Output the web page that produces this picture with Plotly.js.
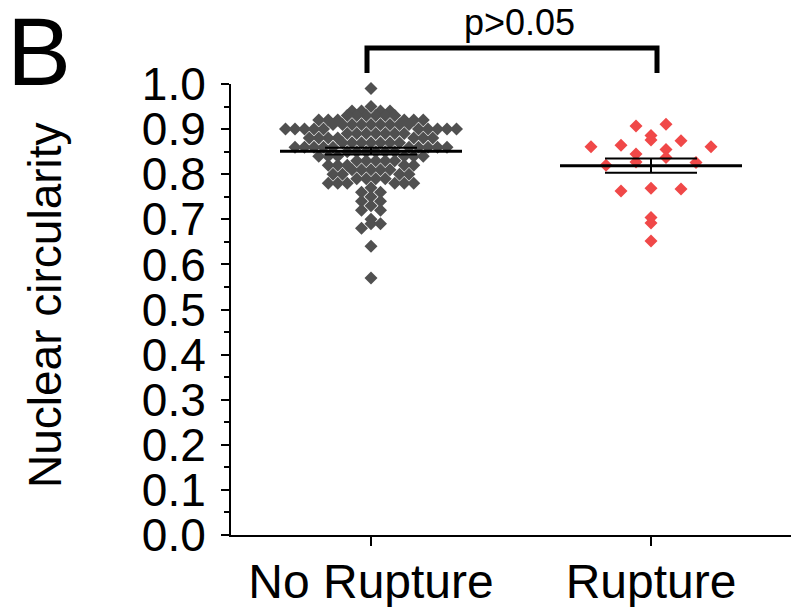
<!DOCTYPE html>
<html><head><meta charset="utf-8">
<script src="https://cdn.plot.ly/plotly-3.0.1.min.js"></script>
<style>html,body{margin:0;padding:0;background:#fff}#chart{width:792px;height:607px}</style>
</head><body><div id="chart"></div>
<script>
const categories = ['No Rupture', 'Rupture'];
const noRupture = [
  0.99,
  0.95,
  0.94, 0.94, 0.94, 0.94,
  0.93, 0.93, 0.93, 0.93, 0.93, 0.93,
  0.92, 0.92, 0.92, 0.92, 0.92, 0.92,
  0.91, 0.91, 0.91, 0.91, 0.91, 0.91, 0.91, 0.91, 0.91,
  0.90, 0.90, 0.90, 0.90, 0.90, 0.90, 0.90, 0.90, 0.90, 0.90,
  0.89, 0.89, 0.89, 0.89, 0.89, 0.89, 0.89,
  0.88, 0.88, 0.88, 0.88, 0.88, 0.88, 0.88,
  0.87, 0.87, 0.87, 0.87, 0.87, 0.87, 0.87,
  0.86, 0.86, 0.86, 0.86, 0.86, 0.86, 0.86, 0.86, 0.86, 0.86,
  0.85, 0.85, 0.85, 0.85, 0.85, 0.85,
  0.84, 0.84, 0.84, 0.84, 0.84, 0.84,
  0.83, 0.83, 0.83, 0.83, 0.83,
  0.82, 0.82, 0.82, 0.82, 0.82,
  0.81, 0.81, 0.81, 0.81, 0.81,
  0.80, 0.80, 0.80, 0.80,
  0.79, 0.79, 0.79, 0.79,
  0.78, 0.78, 0.78, 0.78, 0.78, 0.78,
  0.77,
  0.76, 0.76,
  0.75,
  0.74, 0.74,
  0.73,
  0.72, 0.72,
  0.70,
  0.69, 0.69,
  0.68,
  0.64,
  0.57
];
const rupture = [0.911, 0.907, 0.886, 0.876, 0.874, 0.864, 0.861, 0.861, 0.855, 0.845,
                 0.837, 0.827, 0.826, 0.820, 0.769, 0.767, 0.763, 0.704, 0.692, 0.652];
const groupMeans = [0.851, 0.819];
const groupSEM = [0.0075, 0.016];
const yTickVals = [0.0, 0.1, 0.2, 0.3, 0.4, 0.5, 0.6, 0.7, 0.8, 0.9, 1.0];
const yTickText = ['0.0', '0.1', '0.2', '0.3', '0.4', '0.5', '0.6', '0.7', '0.8', '0.9', '1.0'];
const yTitle = 'Nuclear circularity';
const significanceLabel = 'p>0.05';
const panelLabel = 'B';

const groupColors = ['#505050', '#F04848'];
const rowSpacingPx = [9.5, 30];
const binHeight = 0.02;
const W = 792, H = 607;
const M = {l: 231, r: 1, t: 84, b: 72};
const xRange = [-0.5, 1.5], yRange = [0, 1];
const plotW = W - M.l - M.r, plotH = H - M.t - M.b;
const pxPerX = plotW / (xRange[1] - xRange[0]);
const FONT = 'Liberation Sans, Arial, sans-serif';

// Prism-style scatter: values binned into rows, highest values placed at the row centre
function rowOffsets(values, spacingPx) {
  const bins = {};
  values.forEach((v, i) => {
    const b = Math.floor(v / binHeight + 1e-6);
    (bins[b] = bins[b] || []).push(i);
  });
  const off = new Array(values.length).fill(0);
  Object.values(bins).forEach(idx => {
    idx.sort((a, b) => values[b] - values[a]);
    const n = idx.length;
    const slots = [];
    for (let k = 0; k < n; k++) slots.push(k - (n - 1) / 2);
    slots.sort((a, b) => Math.abs(a) - Math.abs(b) || b - a);
    idx.forEach((i, k) => { off[i] = slots[k] * spacingPx / pxPerX; });
  });
  return off;
}

const groups = [noRupture, rupture];
const traces = [];
groups.forEach((vals, g) => {
  const off = rowOffsets(vals, rowSpacingPx[g]);
  traces.push({
    type: 'scatter', mode: 'markers',
    x: vals.map((v, i) => g + off[i]), y: vals,
    marker: {symbol: 'diamond', size: 10, color: groupColors[g], line: {width: 0}},
    cliponaxis: false, hoverinfo: 'y', showlegend: false
  });
});
groups.forEach((vals, g) => {
  traces.push({
    type: 'scatter', mode: 'lines',
    x: [g - 0.325, g + 0.325], y: [groupMeans[g], groupMeans[g]],
    line: {color: '#000', width: 3}, showlegend: false, hoverinfo: 'skip'
  });
  traces.push({
    type: 'scatter', mode: 'markers',
    x: [g], y: [groupMeans[g]],
    marker: {size: 1, opacity: 0},
    error_y: {type: 'data', array: [groupSEM[g]], width: 46, thickness: 2, color: '#000'},
    showlegend: false, hoverinfo: 'skip'
  });
});

const px2paperX = px => (px - M.l) / plotW;
const px2paperY = py => (H - M.b - py) / plotH;
const bx0 = px2paperX(367), bx1 = px2paperX(657), byTop = px2paperY(48), byLeg = px2paperY(73);

const layout = {
  width: W, height: H,
  margin: M,
  paper_bgcolor: '#fff', plot_bgcolor: '#fff',
  font: {family: FONT, color: '#000'},
  showlegend: false,
  xaxis: {
    range: xRange, tickmode: 'array', tickvals: [0, 1], ticktext: categories,
    showline: true, linecolor: '#000', linewidth: 2,
    ticks: 'outside', ticklen: 9, tickwidth: 2, tickcolor: '#000',
    tickfont: {size: 48, family: FONT, color: '#000'},
    ticklabelstandoff: -6,
    showgrid: false, zeroline: false, fixedrange: true
  },
  yaxis: {
    range: yRange, tickmode: 'array', tickvals: yTickVals, ticktext: yTickText,
    showline: true, linecolor: '#000', linewidth: 2,
    ticks: 'outside', ticklen: 8, tickwidth: 2, tickcolor: '#000',
    minor: {dtick: 0.05, tick0: 0, ticks: 'outside', ticklen: 5, tickwidth: 2, tickcolor: '#000'},
    tickfont: {size: 46, family: FONT, color: '#000'},
    ticklabelstandoff: 6,
    showgrid: false, zeroline: false, fixedrange: true
  },
  shapes: [{
    type: 'path', xref: 'paper', yref: 'paper',
    path: `M ${bx0},${byLeg} L ${bx0},${byTop} L ${bx1},${byTop} L ${bx1},${byLeg}`,
    line: {color: '#000', width: 5}
  }],
  annotations: [
    {text: significanceLabel, xref: 'paper', yref: 'paper', x: px2paperX(519.5), y: px2paperY(22),
     xanchor: 'center', yanchor: 'middle', showarrow: false, font: {size: 36, family: FONT, color: '#000'}},
    {text: yTitle, xref: 'paper', yref: 'paper', x: px2paperX(45), y: px2paperY(305), textangle: -90,
     xanchor: 'center', yanchor: 'middle', showarrow: false, font: {size: 46, family: FONT, color: '#000'}},
    {text: panelLabel, xref: 'paper', yref: 'paper', x: px2paperX(39), y: px2paperY(52),
     xanchor: 'center', yanchor: 'middle', showarrow: false, font: {size: 96, family: FONT, color: '#000'}}
  ]
};

Plotly.newPlot('chart', traces, layout, {displayModeBar: false, staticPlot: true});
</script>
</body></html>
